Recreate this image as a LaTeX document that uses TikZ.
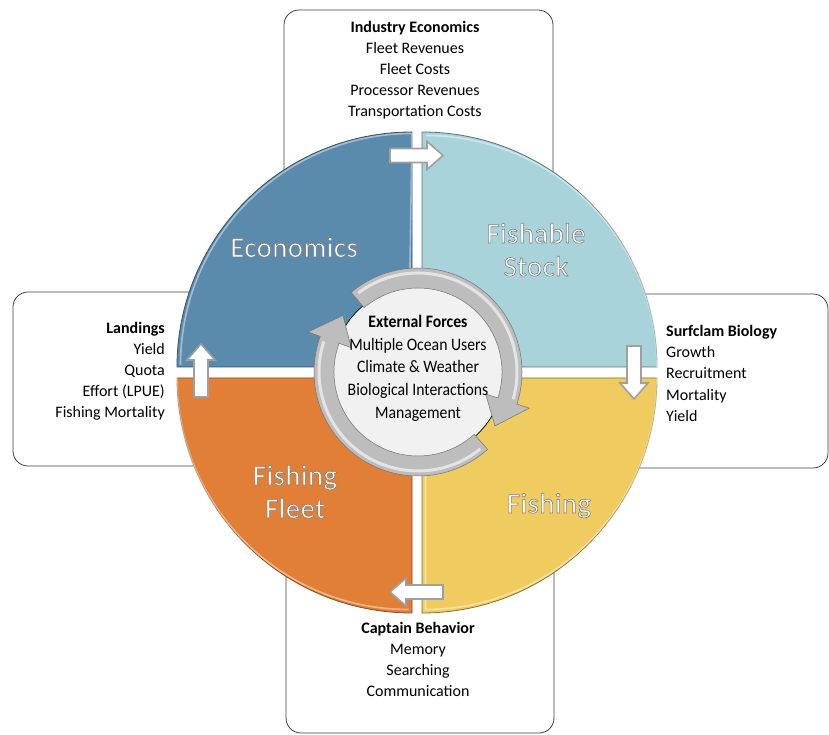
\documentclass[tikz,border=0pt]{standalone}
\usepackage{fontspec}
\setmainfont{Carlito}
\newfontfamily\condfont[FakeStretch=0.9]{Carlito}
\newfontfamily\outlinefont[FakeBold=2.2,LetterSpace=2]{Carlito}
\newcommand{\outlined}[1]{{\outlinefont\special{pdf:code 0.5 G}#1}}
\definecolor{econ}{HTML}{5A8AAC}
\definecolor{stock}{HTML}{A9D3DB}
\definecolor{fleet}{HTML}{E17F36}
\definecolor{fishing}{HTML}{F0CB5F}
\definecolor{ringgray}{HTML}{BDBDBD}
\definecolor{diskgray}{HTML}{F1F1F1}
\begin{document}
\begin{tikzpicture}[x=1pt,y=1pt,
  box/.style={draw=black!75, line width=0.8pt, fill=white, rounded corners=15pt, inner sep=0pt},
  txt/.style={font=\fontsize{16}{19}\selectfont, anchor=base, inner sep=0pt},
  hd/.style={txt, font=\fontsize{16}{19}\selectfont\bfseries},
  ctxt/.style={font=\condfont\fontsize{17.5}{20}\selectfont, anchor=base, inner sep=0pt},
  qlabel/.style={font=\fontsize{28.5}{34}\selectfont, text=white, anchor=base, inner sep=0pt},
  quad/.style={line width=0.8pt},
  shine/.style={white, opacity=0.45, line width=1.6pt},
  ringpart/.style={fill=ringgray, draw=black!55, line width=0.5pt},
  ringshine/.style={white, opacity=0.6, line width=3pt},
  flow/.style={fill=white, draw=gray!75, line width=1.6pt, line join=miter},
  flowarr/.pic={\draw[flow] (0,-7) -- (37,-7) -- (37,-14) -- (53,0) -- (37,14) -- (37,7) -- (0,7) -- cycle;}
]
\useasboundingbox (0,0) rectangle (829,735);
\fill[white] (0,0) rectangle (829,735);

% surrounding boxes
\node[box, minimum width=269pt, minimum height=370pt] (topbox) at (418.5,540) {};
\node[box, minimum width=287pt, minimum height=174pt] (leftbox) at (156.5,356) {};
\node[box, minimum width=288pt, minimum height=174pt] (rightbox) at (684,354) {};
\node[box, minimum width=268pt, minimum height=373pt] (botbox) at (420,188.5) {};

% box texts
\node[hd]  (t1) at (415,702) {Industry Economics};
\node[txt] (t2) at (415,681) {Fleet Revenues};
\node[txt] (t3) at (415,660) {Fleet Costs};
\node[txt] (t4) at (415,639) {Processor Revenues};
\node[txt] (t5) at (415,618) {Transportation Costs};

\node[hd, anchor=base east]  (l1) at (165,401) {Landings};
\node[txt, anchor=base east] (l2) at (165,380) {Yield};
\node[txt, anchor=base east] (l3) at (165,359) {Quota};
\node[txt, anchor=base east] (l4) at (165,338) {Effort (LPUE)};
\node[txt, anchor=base east] (l5) at (165,317) {Fishing Mortality};

\node[hd, anchor=base west]  (r1) at (666,398) {Surfclam Biology};
\node[txt, anchor=base west] (r2) at (666,377) {Growth};
\node[txt, anchor=base west] (r3) at (666,356) {Recruitment};
\node[txt, anchor=base west] (r4) at (666,334) {Mortality};
\node[txt, anchor=base west] (r5) at (666,313) {Yield};

\node[hd]  (b1) at (418,101) {Captain Behavior};
\node[txt] (b2) at (418,80) {Memory};
\node[txt] (b3) at (418,59) {Searching};
\node[txt] (b4) at (418,38) {Communication};

% white backing disk (hides box edges in the gaps)
\fill[white] (417,362.5) circle[radius=240pt];

% quadrants
\filldraw[quad, fill=econ, draw=econ!60!black] (412,368) -- (177,368) arc[start angle=180, end angle=90, radius=235pt] -- cycle;
\filldraw[quad, fill=stock, draw=stock!55!black] (422,368) -- (422,603) arc[start angle=90, end angle=0, radius=235pt] -- cycle;
\filldraw[quad, fill=fleet, draw=fleet!60!black] (412,357) -- (412,122) arc[start angle=270, end angle=180, radius=235pt] -- cycle;
\filldraw[quad, fill=fishing, draw=fishing!55!black] (422,357) -- (657,357) arc[start angle=0, end angle=-90, radius=235pt] -- cycle;
\draw[shine] (180.5,370) arc[start angle=180, end angle=90, radius=231.5pt] -- (408.5,370);
\draw[shine] (425.5,599.5) arc[start angle=90, end angle=0, radius=231.5pt];
\draw[shine] (408.5,125.5) arc[start angle=270, end angle=180, radius=231.5pt];
\draw[shine] (425.5,357) -- (425.5,125.5) arc[start angle=-90, end angle=0, radius=231.5pt];

% quadrant labels
\node[qlabel] (qe) at (294,478) {\outlined{Economics}};
\node[qlabel] (qs1) at (536,492) {\outlined{Fishable}};
\node[qlabel] (qs2) at (536,459) {\outlined{Stock}};
\node[qlabel] (qf1) at (295,250) {\outlined{Fishing}};
\node[qlabel] (qf2) at (295,217) {\outlined{Fleet}};
\node[qlabel] (qg) at (549,222) {\outlined{Fishing}};

% central disk and circular arrows
\begin{scope}[shift={(418,363)}]
  \filldraw[fill=diskgray, draw=black, line width=0.7pt] (0,0) circle[radius=86pt];
  \filldraw[ringpart] (130:104pt) arc[start angle=130, end angle=-18, radius=104pt]
     -- (-18:117pt) -- (-35:94pt) -- (-18:71pt) -- (-18:84pt)
     arc[start angle=-18, end angle=130, radius=84pt] -- cycle;
  \filldraw[ringpart] (-48:104pt) arc[start angle=-48, end angle=-200, radius=104pt]
     -- (-200:117pt) -- (-217:94pt) -- (-200:71pt) -- (-200:84pt)
     arc[start angle=-200, end angle=-48, radius=84pt] -- cycle;
  \draw[ringshine] (127:99pt) arc[start angle=127, end angle=-16, radius=99pt];
  \draw[ringshine] (-51:99pt) arc[start angle=-51, end angle=-198, radius=99pt];
\end{scope}

\node[ctxt, font=\condfont\fontsize{17.5}{20}\selectfont\bfseries] (c1) at (418,407) {External Forces};
\node[ctxt] (c2) at (418,384) {Multiple Ocean Users};
\node[ctxt] (c3) at (418,362) {Climate \& Weather};
\node[ctxt] (c4) at (418,339) {Biological Interactions};
\node[ctxt] (c5) at (418,316) {Management};

% flow arrows between quadrants
\pic at (390,579.5) {flowarr};
\pic[rotate=90] at (201,338) {flowarr};
\pic[rotate=-90] at (634,389) {flowarr};
\pic[rotate=180] at (443,143) {flowarr};
\end{tikzpicture}
\end{document}
